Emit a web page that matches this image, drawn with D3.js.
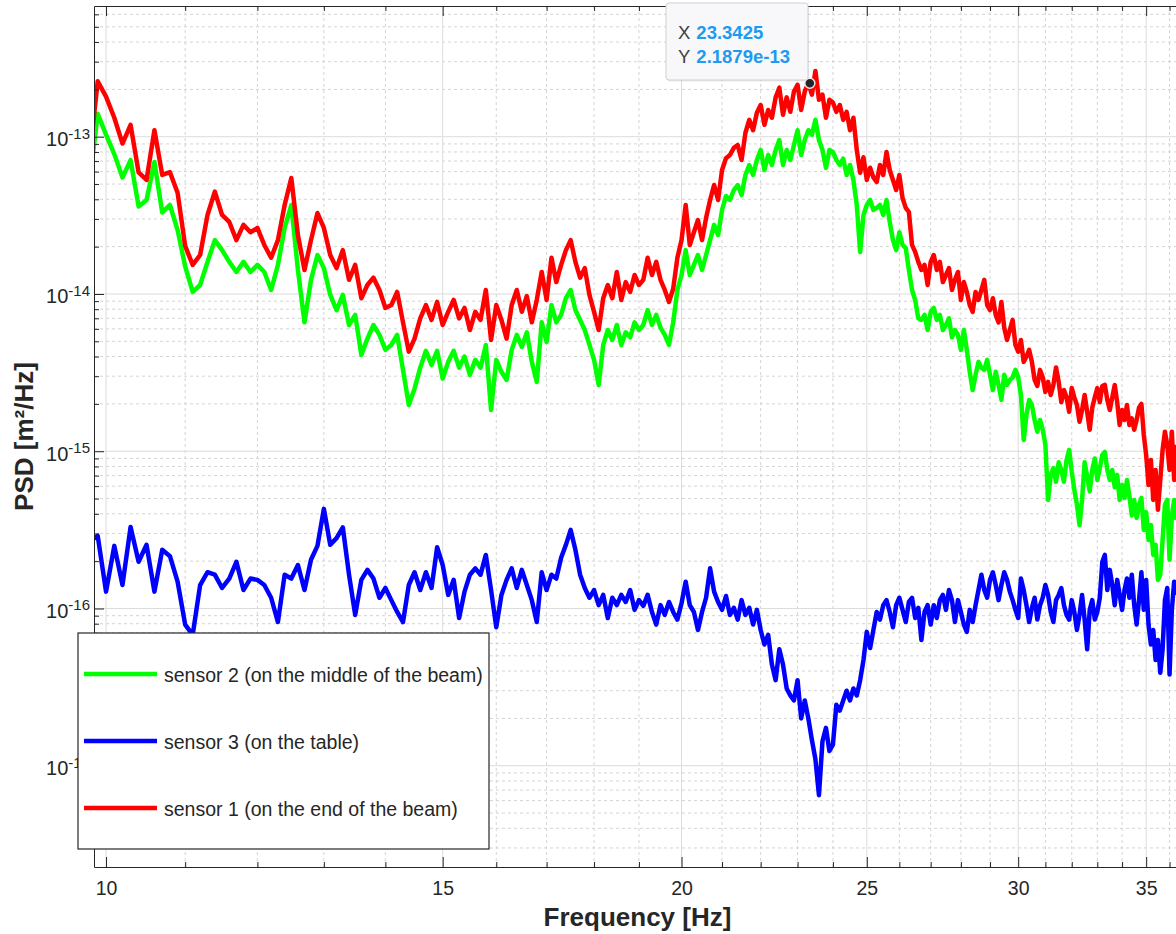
<!DOCTYPE html>
<html>
<head>
<meta charset="utf-8">
<script src="https://cdn.jsdelivr.net/npm/d3@7"></script>
<style>
  body { margin: 0; background: #fff; }
  svg { display: block; font-family: "Liberation Sans", Arial, Helvetica, sans-serif; }
</style>
</head>
<body>
<div id="chart"></div>
<script>
// frequency bins, 9.8 ... 36.3 Hz every 0.1 Hz
const freqs = d3.range(98, 364).map(k => k / 10);

// PSD values in units of 1e-15 m^2/Hz, one row per Hz
const sensor1 = [
  71, 225,
  180, 132, 90.5, 119, 59.3, 53.1, 110, 57.1, 59.5, 44,
  20.2, 15.3, 17.7, 31.8, 44.8, 31.8, 28.7, 22.0, 27.5, 24.7,
  26.3, 20.5, 17.0, 22.0, 36.8, 54.6, 23.7, 14.2, 22.0, 32.7,
  26.3, 17.7, 14.6, 19.0, 12.3, 15.3, 9.4, 11.4, 12.7, 10.6,
  8.15, 8.5, 10.3, 6.6, 4.3, 5.2, 7.0, 8.5, 6.84, 8.9,
  6.35, 7.7, 9.16, 7.0, 8.15, 5.9, 7.7, 6.84, 10.6, 5.1,
  8.5, 6.84, 5.2, 8.5, 10.6, 7.7, 9.7, 6.6, 9.16, 13.8,
  9.16, 17.0, 11.9, 15.3, 19.0, 22.0, 16.0, 12.7, 14.6, 9.86,
  7.7, 5.9, 9.4, 11.4, 9.4, 13.8, 9.16, 11.9, 10.3, 13.2,
  11.4, 12.3, 17.0, 13.2, 16.0, 12.3, 10.6, 8.9, 10.8, 17.0,
  22.0, 36.8, 20.5, 24.7, 29.5, 22.0, 30.4, 39.6, 49.3, 39.6,
  61.4, 73, 76.5, 85, 88.6, 71.1, 106, 128, 110, 142,
  159, 119, 148, 132, 178, 205, 138, 178, 144, 194,
  214, 148, 194, 219, 185, 262, 172, 185, 132, 172,
  165, 144, 159, 128, 144, 110, 132, 82.4, 59, 74,
  53.1, 63.5, 55, 51.5, 66.1, 57.1, 80, 61.4, 53.1, 45.8,
  57.1, 40.8, 35.3, 33.2, 20.5, 18.5, 16.0, 14.2, 15.3, 11.4,
  16.0, 17.7, 14.2, 16.0, 11.9, 13.2, 14.6, 10.6, 12.3, 13.8,
  9.16, 11.9, 10.3, 8.5, 7.7, 10.3, 9.16, 10.6, 12.3, 8.5,
  7.9, 9.4, 7.36, 6.6, 8.9, 6.1, 5.1, 5.9, 6.84, 4.74,
  4.3, 5.1, 3.7, 4.0, 4.41, 3.7, 2.84, 2.6, 3.29, 2.95,
  2.38, 2.76, 2.28, 2.64, 3.41, 2.76, 2.05, 2.45, 2.2, 1.78,
  2.52, 2.2, 1.97, 1.54, 1.83, 2.28, 1.78, 1.37, 1.89, 2.2,
  2.52, 2.05, 2.6, 2.64, 2.12, 1.83, 2.2, 2.64, 2.05, 1.47,
  1.83, 1.58, 1.97, 1.47, 1.62, 1.37, 1.58, 1.89, 2.0, 1.27,
  0.947, 0.61, 0.88, 0.49, 0.76, 0.424, 0.656, 1.02, 1.33, 1.10,
  0.76, 1.33, 0.656, 1.1
];
const sensor2 = [
  49.3, 140,
  103, 77.5, 55, 71, 36, 39.6, 69, 33, 36.8, 25.5,
  15, 10.3, 11.4, 16, 22, 19, 16, 13.8, 16, 13.8,
  15.3, 13.8, 10.6, 15.3, 26.3, 36.8, 14.2, 6.6, 12.3, 17.7,
  14.6, 9.86, 7.9, 9.86, 6.35, 7.36, 4.1, 5.2, 6.35, 5.49,
  4.41, 4.74, 5.49, 3.29, 1.97, 2.5, 3.4, 4.35, 3.54, 4.35,
  2.9, 3.7, 4.35, 3.4, 4.0, 3.06, 3.81, 3.4, 4.74, 1.83,
  3.81, 3.2, 2.84, 4.41, 5.49, 4.6, 5.7, 3.7, 2.76, 6.6,
  4.95, 8.5, 6.6, 7.36, 9.4, 10.6, 7.9, 6.84, 5.9, 4.74,
  3.81, 2.64, 4.74, 5.9, 5.1, 6.35, 4.74, 5.7, 5.3, 6.6,
  5.9, 6.35, 7.9, 6.35, 7.36, 6.1, 5.49, 4.74, 6.6, 10.6,
  13.2, 19, 13.2, 15.3, 17.7, 14.2, 17.7, 22, 27.5, 23.7,
  34.2, 42, 39.6, 45.8, 49.3, 42.6, 57.1, 66.1, 57.1, 71.1,
  82.4, 61.4, 76.5, 66.1, 82.4, 95.3, 66.1, 82.4, 71.1, 88.6,
  110, 76.5, 95.3, 110, 103, 128, 95.3, 82.4, 63.4, 82.4,
  80, 71.1, 66.1, 72.5, 57.1, 66.1, 53.1, 36.8, 18.5, 31.8,
  36.8, 39.6, 34.2, 35.3, 36.8, 31.8, 39.6, 28.7, 22, 19,
  24.7, 20.5, 19.6, 14.2, 10.6, 9.16, 7.0, 6.84, 7.36, 5.9,
  7.7, 8.15, 6.84, 7.36, 5.9, 6.35, 7.0, 5.3, 5.9, 5.49,
  4.41, 5.9, 4.41, 3.2, 2.45, 3.06, 3.7, 3.4, 3.29, 3.81,
  3.06, 2.45, 3.2, 2.64, 2.12, 3.06, 2.64, 2.84, 2.95, 3.29,
  2.95, 2.28, 1.18, 1.70, 2.12, 1.97, 1.58, 1.33, 1.58, 1.37,
  1.10, 0.49, 0.707, 0.78, 0.64, 0.85, 0.76, 0.64, 0.88, 1.02,
  0.74, 0.567, 0.457, 0.34, 0.49, 0.85, 0.69, 0.557, 0.76, 0.90,
  0.656, 0.78, 0.947, 0.99, 0.76, 0.656, 0.76, 0.59, 0.707, 0.49,
  0.61, 0.505, 0.656, 0.52, 0.39, 0.49, 0.377, 0.457, 0.505, 0.316,
  0.41, 0.273, 0.34, 0.219, 0.254, 0.152, 0.164, 0.273, 0.457, 0.49,
  0.204, 0.39, 0.49, 0.366
];
const sensor3 = [
  0.265, 0.29,
  0.128, 0.25, 0.141, 0.33, 0.198, 0.254, 0.128, 0.236, 0.215, 0.148,
  0.079, 0.068, 0.141, 0.17, 0.164, 0.135, 0.155, 0.198, 0.131, 0.155,
  0.152, 0.141, 0.117, 0.082, 0.164, 0.155, 0.189, 0.131, 0.204, 0.25,
  0.43, 0.254, 0.28, 0.328, 0.164, 0.091, 0.152, 0.176, 0.155, 0.117,
  0.135, 0.113, 0.095, 0.082, 0.141, 0.17, 0.131, 0.17, 0.135, 0.245,
  0.189, 0.122, 0.152, 0.087, 0.128, 0.164, 0.18, 0.164, 0.219, 0.131,
  0.076, 0.122, 0.152, 0.18, 0.135, 0.176, 0.141, 0.113, 0.082, 0.17,
  0.131, 0.164, 0.155, 0.21, 0.254, 0.316, 0.236, 0.164, 0.135, 0.117,
  0.131, 0.105, 0.122, 0.087, 0.117, 0.105, 0.122, 0.11, 0.131, 0.098,
  0.113, 0.104, 0.122, 0.095, 0.079, 0.105, 0.091, 0.11, 0.095, 0.085,
  0.108, 0.148, 0.105, 0.095, 0.073, 0.095, 0.117, 0.18, 0.128, 0.11,
  0.098, 0.12, 0.091, 0.101, 0.085, 0.113, 0.091, 0.101, 0.079, 0.098,
  0.073, 0.059, 0.068, 0.044, 0.035, 0.055, 0.044, 0.031, 0.028, 0.026,
  0.035, 0.02, 0.026, 0.02, 0.0146, 0.011, 0.0065, 0.0143, 0.0174, 0.0124,
  0.0136, 0.0244, 0.0224, 0.026, 0.030, 0.026, 0.031, 0.028, 0.035, 0.047,
  0.071, 0.056, 0.073, 0.095, 0.085, 0.105, 0.113, 0.095, 0.076, 0.105,
  0.117, 0.098, 0.082, 0.11, 0.117, 0.087, 0.101, 0.063, 0.095, 0.105,
  0.079, 0.105, 0.087, 0.113, 0.122, 0.098, 0.131, 0.113, 0.082, 0.113,
  0.095, 0.079, 0.071, 0.098, 0.082, 0.105, 0.131, 0.164, 0.131, 0.117,
  0.152, 0.17, 0.141, 0.113, 0.141, 0.17, 0.152, 0.128, 0.113, 0.098,
  0.087, 0.155, 0.131, 0.105, 0.082, 0.101, 0.117, 0.085, 0.105, 0.117,
  0.141, 0.122, 0.095, 0.082, 0.113, 0.122, 0.135, 0.105, 0.091, 0.085,
  0.113, 0.095, 0.073, 0.091, 0.122, 0.085, 0.055, 0.098, 0.113, 0.085,
  0.095, 0.117, 0.198, 0.219, 0.131, 0.176, 0.141, 0.105, 0.152, 0.122,
  0.098, 0.131, 0.155, 0.117, 0.164, 0.105, 0.079, 0.113, 0.17, 0.098,
  0.152, 0.079, 0.059, 0.073, 0.047, 0.063, 0.039, 0.055, 0.113, 0.135,
  0.038, 0.098, 0.148, 0.122
];
const unit = 1e-15;

// legend follows plot order
const seriesNames = [
  "sensor 2 (on the middle of the beam)",
  "sensor 3 (on the table)",
  "sensor 1 (on the end of the beam)"
];
const seriesValues = [sensor2, sensor3, sensor1];
const seriesColors = ["#00ff00", "#0000ff", "#ff0000"];

const xMajor = [10, 15, 20, 25, 30, 35];
const xMinor = d3.range(11, 37).filter(v => v % 5 !== 0);
const yExponents = [-17, -16, -15, -14, -13];

// data tip
const tipX = 23.3425, tipY = 2.1879e-13;

const width = 1176, height = 934;
const plot = {left: 94, top: 6, right: 1181, bottom: 867};
const ink = "#262626";

const svg = d3.select("#chart").append("svg")
    .attr("width", width)
    .attr("height", height);

svg.append("rect").attr("width", width).attr("height", height).attr("fill", "#fff");

const x = d3.scaleLog().domain([9.856, 36.5]).range([plot.left, plot.right]);
const y = d3.scaleLog().domain([2.27e-18, 6.78e-13]).range([plot.bottom, plot.top]);

const yMajor = yExponents.map(e => Math.pow(10, e));
const yMinor = [];
for (let e = -18; e <= -13; e++) {
    for (let m = 2; m <= 9; m++) {
        const v = m * Math.pow(10, e);
        if (v > y.domain()[0] && v < y.domain()[1]) yMinor.push(v);
    }
}

// grid
const grid = svg.append("g");
grid.selectAll(".xminor").data(xMinor).enter().append("line")
    .attr("x1", d => x(d)).attr("x2", d => x(d))
    .attr("y1", plot.top).attr("y2", plot.bottom)
    .attr("stroke", "#d4d4d4").attr("stroke-dasharray", "3,3");
grid.selectAll(".yminor").data(yMinor).enter().append("line")
    .attr("x1", plot.left).attr("x2", plot.right)
    .attr("y1", d => y(d)).attr("y2", d => y(d))
    .attr("stroke", "#d4d4d4").attr("stroke-dasharray", "3,3");
grid.selectAll(".xmajor").data(xMajor).enter().append("line")
    .attr("x1", d => x(d)).attr("x2", d => x(d))
    .attr("y1", plot.top).attr("y2", plot.bottom)
    .attr("stroke", "#dcdcdc");
grid.selectAll(".ymajor").data(yMajor).enter().append("line")
    .attr("x1", plot.left).attr("x2", plot.right)
    .attr("y1", d => y(d)).attr("y2", d => y(d))
    .attr("stroke", "#dcdcdc");

// lines
svg.append("clipPath").attr("id", "plotclip").append("rect")
    .attr("x", plot.left).attr("y", plot.top)
    .attr("width", plot.right - plot.left).attr("height", plot.bottom - plot.top);

const line = d3.line()
    .defined(d => d[1] != null)
    .x(d => x(d[0]))
    .y(d => y(d[1] * unit));

svg.append("g").attr("clip-path", "url(#plotclip)")
    .selectAll("path")
    .data(seriesValues)
    .enter().append("path")
    .attr("d", vals => line(freqs.map((f, i) => [f, vals[i]])))
    .attr("fill", "none")
    .attr("stroke", (d, i) => seriesColors[i])
    .attr("stroke-width", 4.5)
    .attr("stroke-linejoin", "round");

// axes (ticks pointing inward, box on)
function styleAxis(g) {
    g.selectAll("path, line").attr("stroke", ink);
    g.selectAll("text").attr("fill", ink);
    g.attr("font-family", null).attr("font-size", 19.5);
}

svg.append("g")
    .attr("transform", `translate(0,${plot.bottom})`)
    .call(d3.axisBottom(x).tickValues(xMajor).tickSize(-10).tickSizeOuter(0)
        .tickPadding(14).tickFormat(d3.format("d")))
    .call(styleAxis);
svg.append("g")
    .attr("transform", `translate(0,${plot.bottom})`)
    .call(d3.axisBottom(x).tickValues(xMinor).tickSize(-5).tickFormat(""))
    .call(g => g.select(".domain").remove())
    .call(styleAxis);
svg.append("g")
    .attr("transform", `translate(0,${plot.top})`)
    .call(d3.axisTop(x).tickValues(xMajor).tickSize(-10).tickSizeOuter(0).tickFormat(""))
    .call(styleAxis);
svg.append("g")
    .attr("transform", `translate(0,${plot.top})`)
    .call(d3.axisTop(x).tickValues(xMinor).tickSize(-5).tickFormat(""))
    .call(g => g.select(".domain").remove())
    .call(styleAxis);

svg.append("g")
    .attr("transform", `translate(${plot.left},0)`)
    .call(d3.axisLeft(y).tickValues(yMajor).tickSize(-10).tickSizeOuter(0).tickPadding(4))
    .call(styleAxis)
    .call(g => g.selectAll(".tick text")
        .attr("font-size", 20)
        .attr("dy", "0.45em")
        .each(function(d) {
            const t = d3.select(this);
            t.text(null);
            t.append("tspan").text("10");
            t.append("tspan").attr("dy", "-0.5em").attr("font-size", 15)
                .text(String(Math.round(Math.log10(d))));
        }));
svg.append("g")
    .attr("transform", `translate(${plot.left},0)`)
    .call(d3.axisLeft(y).tickValues(yMinor).tickSize(-5).tickFormat(""))
    .call(g => g.select(".domain").remove())
    .call(styleAxis);

// axis titles
svg.append("text")
    .attr("x", (plot.left + plot.right) / 2)
    .attr("y", 926)
    .attr("text-anchor", "middle")
    .attr("font-size", 26)
    .attr("font-weight", "bold")
    .attr("fill", ink)
    .text("Frequency [Hz]");

svg.append("text")
    .attr("transform", `translate(33,${(plot.top + plot.bottom) / 2}) rotate(-90)`)
    .attr("text-anchor", "middle")
    .attr("font-size", 26)
    .attr("font-weight", "bold")
    .attr("fill", ink)
    .text("PSD [m²/Hz]");

// legend
const legend = svg.append("g").attr("transform", "translate(78,633)");
legend.append("rect")
    .attr("width", 411).attr("height", 216)
    .attr("fill", "#fff").attr("stroke", ink).attr("stroke-width", 1.2);
const entry = legend.selectAll(".entry")
    .data(seriesNames)
    .enter().append("g")
    .attr("transform", (d, i) => `translate(0,${41 + i * 67})`);
entry.append("line")
    .attr("x1", 6).attr("x2", 79)
    .attr("stroke", (d, i) => seriesColors[i])
    .attr("stroke-width", 4.5);
entry.append("text")
    .attr("x", 86).attr("y", 7.5)
    .attr("font-size", 19.5)
    .attr("fill", ink)
    .text(d => d);

// data tip
const tip = svg.append("g").attr("transform", "translate(666,3)");
tip.append("rect")
    .attr("x", 1).attr("y", 1.5)
    .attr("width", 142).attr("height", 77).attr("rx", 3)
    .attr("fill", "#000").attr("opacity", 0.08);
tip.append("rect")
    .attr("width", 142).attr("height", 77).attr("rx", 3)
    .attr("fill", "#f8f8fb").attr("stroke", "#cfcfd4");
const tipRows = [["X", tipX.toFixed(4)], ["Y", "2.1879e-13"]];
const row = tip.selectAll(".row").data(tipRows).enter().append("text")
    .attr("x", 12).attr("y", (d, i) => 36 + i * 24)
    .attr("font-size", 18.5);
row.append("tspan").attr("fill", "#404040").text(d => d[0]);
row.append("tspan").attr("dx", 6).attr("fill", "#1e9bf0").attr("font-weight", "bold").text(d => d[1]);

svg.append("circle")
    .attr("cx", x(tipX)).attr("cy", y(tipY)).attr("r", 5)
    .attr("fill", ink).attr("stroke", "#e8e8e8").attr("stroke-width", 1.5);
</script>
</body>
</html>
